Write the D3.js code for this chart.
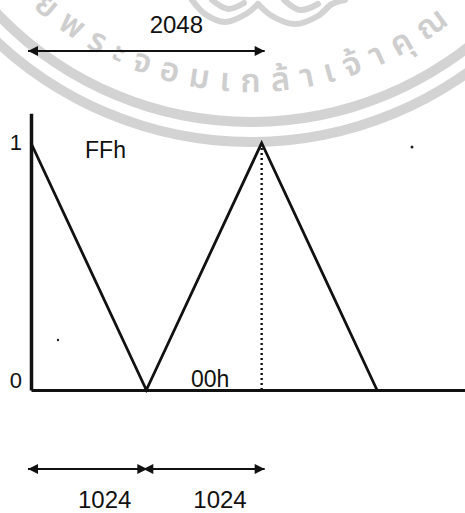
<!DOCTYPE html>
<html>
<head>
<meta charset="utf-8">
<script src="https://cdn.jsdelivr.net/npm/d3@7"></script>
<style>
  html, body { margin: 0; padding: 0; background: #fff; }
  svg { display: block; }
  text { font-family: "Liberation Sans", Arial, sans-serif; fill: #111; }
</style>
</head>
<body>
<svg id="chart" width="465" height="513"></svg>
<script>
// Triangle (ramp up / ramp down) waveform: DAC code vs. sample count
const waveSamples = [0, 1024, 2048, 3072];
const waveLevels  = [1, 0, 1, 0];

// Level axis
const levelTicks      = [0, 1];
const levelTickLabels = ["0", "1"];
const levelAxisTop    = 1.12;

// Hex code annotations at the two extremes
const codeLabels = ["FFh", "00h"];
const codeLevels = [1, 0];
const codeAt     = [480, 1420];

// Sample-count spans drawn as double-headed arrows
const spanStart  = [0, 0, 1024];
const spanEnd    = [2048, 1024, 2048];
const spanLabels = ["2048", "1024", "1024"];
const spanRow    = ["top", "bottom", "bottom"];

const sampleAxisEnd = 3860;

const W = 465, H = 513;
const svg = d3.select("#chart");

const x = d3.scaleLinear().domain([0, 3072]).range([31, 377]);
const y = d3.scaleLinear().domain([0, 1]).range([390, 143]);
const rowY = { top: 51, bottom: 469 };
const rowLabelY = { top: 33, bottom: 508 };
const rowLabelShift = { top: 30, bottom: 16 };

// ---- faint institutional seal in the background ----
const sealCx = 251, sealCy = -230;
const ringColor = "#d3d3d3";
const seal = svg.append("g").attr("class", "seal")
  .attr("transform", `translate(${sealCx},${sealCy})`);
const ringArc = d3.arc().startAngle(0).endAngle(2 * Math.PI);
[[347, 357], [367, 377]].forEach(([r0, r1]) => {
  seal.append("path")
    .attr("class", "ring")
    .attr("d", ringArc({ innerRadius: r0, outerRadius: r1 }))
    .attr("fill", ringColor);
});
const rText = 322;
seal.append("path").attr("id", "sealArc")
  .attr("d", `M${-rText},0 A${rText},${rText} 0 0 0 ${rText},0`)
  .attr("fill", "none");
seal.append("text")
  .style("font-family", "'Noto Sans Thai', 'Noto Sans', sans-serif")
  .style("font-size", "33px")
  .style("font-weight", 600)
  .style("fill", "#cecece")
  .attr("letter-spacing", 11)
  .append("textPath").attr("href", "#sealArc")
  .attr("startOffset", 266).attr("text-anchor", "start")
  .text("ยพระจอมเกล้าเจ้าคุณ");

// scroll ornament at the top of the seal
const ornament = d3.line().curve(d3.curveCatmullRom.alpha(0.5));
const ornamentPts = [
  [[192, 0], [205, 14], [225, 22], [246, 14], [258, 4]],
  [[258, 4], [272, 16], [295, 24], [318, 16], [332, 4], [345, 0]],
  [[212, 0], [228, 9], [244, 3]],
  [[284, 0], [300, 10], [318, 4]]
];
svg.append("g").selectAll("path.orn").data(ornamentPts).join("path")
  .attr("class", "orn")
  .attr("d", d => ornament(d))
  .attr("fill", "none").attr("stroke", ringColor)
  .attr("stroke-width", 6).attr("stroke-linecap", "round");

// ---- dotted guide under the second peak ----
svg.append("line")
  .attr("x1", x(2048)).attr("x2", x(2048))
  .attr("y1", y(1)).attr("y2", y(0))
  .attr("stroke", "#111").attr("stroke-width", 2.4)
  .attr("stroke-dasharray", "2,3");

// ---- axes ----
const yAxisScale = y.copy().domain([0, levelAxisTop]).range([y(0), y(levelAxisTop)]);
const yAxis = d3.axisLeft(yAxisScale)
  .tickValues(levelTicks)
  .tickFormat((d, i) => levelTickLabels[i])
  .tickSize(0).tickPadding(9);
const gy = svg.append("g").attr("transform", `translate(${x(0)},0)`).call(yAxis);
gy.select(".domain").attr("stroke", "#111").attr("stroke-width", 3.5);
gy.selectAll(".tick text")
  .style("font-family", "'Liberation Sans', Arial, sans-serif")
  .style("font-size", "22px").attr("fill", "#111")
  .attr("dy", d => d === 0 ? "-0.12em" : "0.3em");

const xAxisScale = x.copy().domain([0, sampleAxisEnd]).range([x(0), x(sampleAxisEnd)]);
const xAxis = d3.axisBottom(xAxisScale).tickValues([]).tickSizeOuter(0);
const gx = svg.append("g").attr("transform", `translate(0,${y(0)})`).call(xAxis);
gx.select(".domain").attr("stroke", "#111").attr("stroke-width", 3);

// ---- waveform ----
const line = d3.line().x(d => x(d[0])).y(d => y(d[1]));
svg.append("path")
  .datum(d3.zip(waveSamples, waveLevels))
  .attr("d", line)
  .attr("fill", "none").attr("stroke", "#111")
  .attr("stroke-width", 2.8).attr("stroke-linejoin", "miter");

// ---- hex code labels ----
svg.selectAll("text.code").data(codeLabels).join("text")
  .attr("class", "code")
  .attr("x", (d, i) => x(codeAt[i]))
  .attr("y", (d, i) => y(codeLevels[i]))
  .attr("dy", (d, i) => codeLevels[i] === 1 ? 15 : -3)
  .style("font-size", "23px")
  .text(d => d);

// ---- span arrows ----
const defs = svg.append("defs");
["start", "end"].forEach(k => {
  defs.append("marker")
    .attr("id", "arrow-" + k)
    .attr("viewBox", "0 0 10 10")
    .attr("refX", k === "end" ? 10 : 0).attr("refY", 5)
    .attr("markerWidth", 12).attr("markerHeight", 10)
    .attr("markerUnits", "userSpaceOnUse")
    .attr("orient", "auto")
    .append("path")
    .attr("d", k === "end" ? "M0,0 L10,5 L0,10 Z" : "M10,0 L0,5 L10,10 Z")
    .attr("fill", "#111");
});

const spans = d3.range(spanStart.length).map(i => ({
  a: spanStart[i], b: spanEnd[i], label: spanLabels[i], row: spanRow[i]
}));

svg.selectAll("line.span").data(spans).join("line")
  .attr("class", "span")
  .attr("x1", d => x(d.a) - 3).attr("x2", d => x(d.b) + (d.b === 2048 ? 3 : 1))
  .attr("y1", d => rowY[d.row]).attr("y2", d => rowY[d.row])
  .attr("stroke", "#111").attr("stroke-width", 2)
  .attr("marker-start", "url(#arrow-start)")
  .attr("marker-end", "url(#arrow-end)");

svg.selectAll("text.span").data(spans).join("text")
  .attr("class", "span")
  .attr("x", d => x((d.a + d.b) / 2) + rowLabelShift[d.row])
  .attr("y", d => rowLabelY[d.row])
  .attr("text-anchor", "middle")
  .style("font-size", "24px")
  .text(d => d.label);

// ---- scan specks ----
svg.append("circle").attr("cx", 58).attr("cy", 340).attr("r", 1.2).attr("fill", "#222");
svg.append("circle").attr("cx", 412).attr("cy", 147).attr("r", 1.5).attr("fill", "#222");
</script>
</body>
</html>
